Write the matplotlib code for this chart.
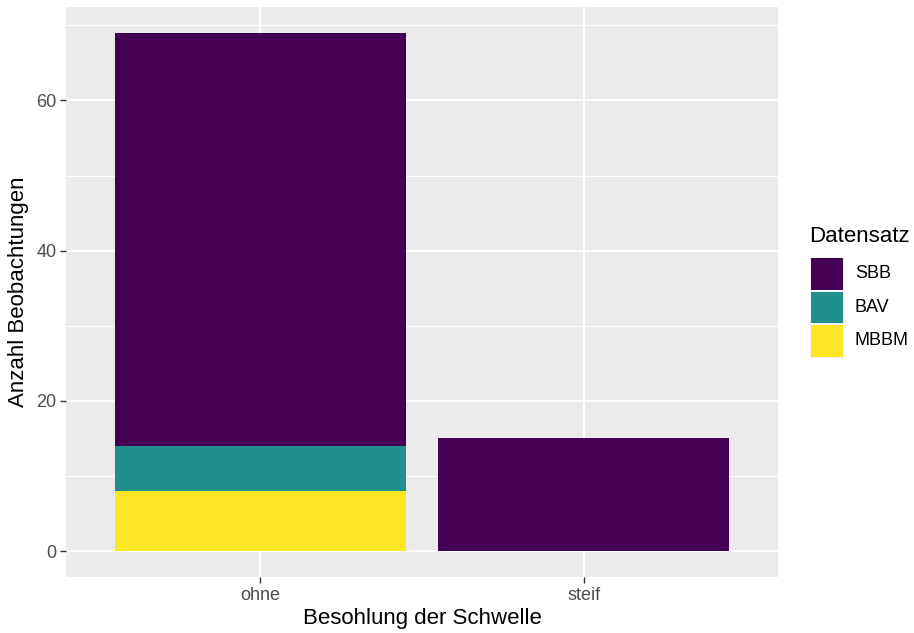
import matplotlib
matplotlib.use("Agg")
import matplotlib.pyplot as plt
from matplotlib.patches import Rectangle
import numpy as np

plt.rcParams['font.family'] = ['Liberation Sans', 'DejaVu Sans']

# Data: observation counts by sleeper pad type and dataset
categories = ["ohne", "steif"]
datasets = ["SBB", "BAV", "MBBM"]
counts = {
    "SBB": [55, 15],
    "BAV": [6, 0],
    "MBBM": [8, 0],
}
colors = {"SBB": "#440154", "BAV": "#21908C", "MBBM": "#FDE725"}

W, H = 914, 633
fig = plt.figure(figsize=(W / 100, H / 100), dpi=100)
ax = fig.add_axes([66 / W, (H - 577) / H, (778 - 66) / W, (577 - 7) / H])
ax.set_facecolor("#EBEBEB")

x = np.arange(1, len(categories) + 1)
# stack from bottom: MBBM, BAV, SBB
bottom = np.zeros(len(categories))
for name in ["MBBM", "BAV", "SBB"]:
    vals = np.array(counts[name], dtype=float)
    ax.bar(x, vals, width=0.9, bottom=bottom, color=colors[name], linewidth=0, zorder=3)
    bottom += vals

total_max = bottom.max()
ax.set_xlim(0.4, 2.6)
ax.set_ylim(-0.05 * total_max, total_max * 1.05)

ax.set_yticks([0, 20, 40, 60])
ax.set_yticks([10, 30, 50, 70], minor=True)
ax.set_xticks(x)
ax.set_xticklabels(categories)

ax.grid(which="major", color="white", linewidth=1.5, zorder=0)
ax.grid(which="minor", axis="y", color="white", linewidth=0.75, zorder=0)
ax.set_axisbelow(True)
for s in ax.spines.values():
    s.set_visible(False)
ax.tick_params(which="major", length=4, width=1.0, color="#333333",
               labelsize=13, labelcolor="#4D4D4D", pad=3)
ax.tick_params(which="minor", length=0)

ax.set_xlabel("Besohlung der Schwelle", fontsize=16, color="black", labelpad=3)
ax.set_ylabel("Anzahl Beobachtungen", fontsize=16, color="black", labelpad=5)

# Legend drawn in figure pixel space
def fx(px):
    return px / W

def fy(py):
    return (H - py) / H

fig.text(fx(809), fy(236), "Datensatz", fontsize=16, va="center", ha="left")
key_top = 257
key_h = 33.5
for i, name in enumerate(datasets):
    top = key_top + i * key_h
    fig.patches.append(Rectangle((fx(810), fy(top + key_h)), fx(34), key_h / H,
                                 transform=fig.transFigure, facecolor="#F2F2F2",
                                 edgecolor="none"))
    fig.patches.append(Rectangle((fx(811), fy(top + key_h - 1)), fx(32), (key_h - 2) / H,
                                 transform=fig.transFigure, facecolor=colors[name],
                                 edgecolor="none"))
    fig.text(fx(855), fy(top + key_h / 2), name, fontsize=13, va="center", ha="left")

fig.savefig("out.png", dpi=100)
